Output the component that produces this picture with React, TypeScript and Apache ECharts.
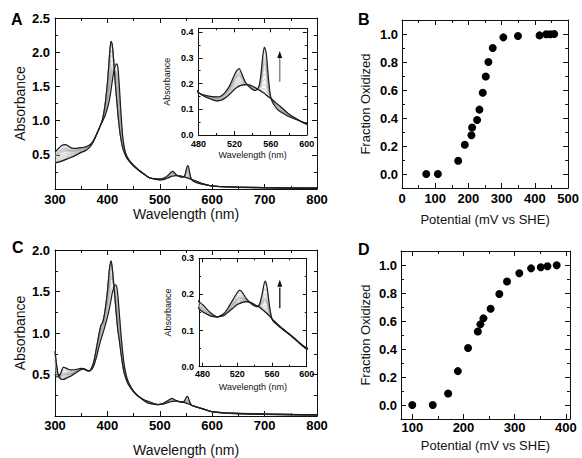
import React, { useEffect, useRef } from "react";
import * as echarts from "echarts";

const FONT = "'Liberation Sans', Arial, Helvetica, sans-serif";

// ---------- Panel A: spectra (fully reduced / fully oxidized) ----------
const wavelengthsA = [300, 305, 310, 315, 320, 325, 330, 335, 340, 345, 350, 355, 360, 365, 370, 375, 380, 385, 390, 395, 400, 403, 405, 407, 409, 411, 413, 415, 418, 420, 422, 424, 426, 428, 430, 433, 436, 440, 445, 450, 460, 470, 480, 490, 500, 505, 510, 515, 520, 523, 525, 528, 532, 537, 543, 547, 549, 551, 553, 555, 557, 559, 561, 566, 570, 575, 580, 590, 600, 620, 650, 700, 750, 800];
const reducedA = [0.54, 0.58, 0.62, 0.645, 0.65, 0.63, 0.605, 0.595, 0.595, 0.6, 0.605, 0.61, 0.62, 0.64, 0.67, 0.73, 0.81, 0.9, 0.98, 1.06, 1.18, 1.27, 1.35, 1.45, 1.56, 1.66, 1.74, 1.8, 1.83, 1.78, 1.6, 1.35, 1.1, 0.88, 0.72, 0.58, 0.5, 0.44, 0.39, 0.35, 0.28, 0.22, 0.165, 0.152, 0.148, 0.152, 0.168, 0.195, 0.235, 0.253, 0.258, 0.238, 0.205, 0.185, 0.173, 0.19, 0.23, 0.3, 0.342, 0.32, 0.24, 0.17, 0.135, 0.105, 0.092, 0.082, 0.072, 0.058, 0.045, 0.033, 0.024, 0.015, 0.01, 0.008];
const oxidizedA = [0.38, 0.39, 0.4, 0.415, 0.43, 0.445, 0.46, 0.475, 0.495, 0.515, 0.535, 0.55, 0.57, 0.6, 0.65, 0.72, 0.81, 0.9, 1.0, 1.2, 1.55, 1.85, 2.05, 2.16, 2.12, 1.98, 1.78, 1.55, 1.28, 1.1, 0.95, 0.82, 0.72, 0.64, 0.58, 0.52, 0.47, 0.42, 0.375, 0.335, 0.27, 0.215, 0.165, 0.145, 0.133, 0.135, 0.145, 0.16, 0.178, 0.186, 0.19, 0.194, 0.196, 0.194, 0.184, 0.175, 0.171, 0.166, 0.162, 0.155, 0.15, 0.145, 0.14, 0.124, 0.113, 0.097, 0.082, 0.06, 0.042, 0.035, 0.028, 0.022, 0.018, 0.015];

// ---------- Panel B: redox titration ----------
const potentialB = [73, 108, 169, 189, 209, 211, 226, 233, 243, 252, 260, 273, 305, 349, 414, 434, 446, 458];
const fractionB = [0, 0, 0.095, 0.209, 0.277, 0.332, 0.386, 0.46, 0.58, 0.697, 0.8, 0.9, 0.976, 0.986, 0.99, 0.998, 0.998, 1.0];

// ---------- Panel C: spectra ----------
const wavelengthsC = [300, 303, 306, 310, 313, 316, 320, 325, 330, 340, 350, 355, 360, 365, 370, 375, 380, 385, 388, 391, 395, 400, 404, 407, 409, 412, 414, 416, 418, 420, 423, 426, 429, 432, 436, 440, 450, 460, 470, 476, 480, 490, 497, 505, 510, 515, 520, 523, 526, 530, 535, 540, 543, 546, 549, 552, 554, 556, 558, 561, 570, 583, 590, 600, 620, 650, 700, 750, 800];
const reducedC = [0.5, 0.47, 0.47, 0.5, 0.55, 0.59, 0.58, 0.565, 0.555, 0.56, 0.575, 0.57, 0.555, 0.545, 0.56, 0.62, 0.73, 0.86, 0.93, 0.99, 1.07, 1.19, 1.3, 1.4, 1.47, 1.54, 1.57, 1.58, 1.55, 1.45, 1.22, 0.98, 0.78, 0.62, 0.49, 0.41, 0.3, 0.235, 0.195, 0.18, 0.172, 0.148, 0.138, 0.148, 0.165, 0.185, 0.205, 0.212, 0.205, 0.19, 0.177, 0.168, 0.166, 0.175, 0.205, 0.237, 0.225, 0.19, 0.155, 0.127, 0.108, 0.083, 0.068, 0.049, 0.036, 0.026, 0.018, 0.012, 0.009];
const oxidizedC = [0.78, 0.62, 0.5, 0.45, 0.44, 0.44, 0.45, 0.465, 0.48, 0.52, 0.56, 0.565, 0.55, 0.54, 0.58, 0.68, 0.85, 1.02, 1.1, 1.13, 1.25, 1.5, 1.78, 1.87, 1.8, 1.6, 1.45, 1.3, 1.15, 1.03, 0.9, 0.75, 0.62, 0.52, 0.44, 0.38, 0.29, 0.23, 0.185, 0.16, 0.152, 0.14, 0.138, 0.142, 0.152, 0.162, 0.172, 0.175, 0.178, 0.18, 0.178, 0.172, 0.168, 0.164, 0.158, 0.152, 0.148, 0.143, 0.138, 0.13, 0.11, 0.085, 0.07, 0.052, 0.04, 0.032, 0.025, 0.02, 0.016];

// ---------- Panel D: redox titration ----------
const potentialD = [100, 140, 170, 189, 209, 228, 233, 239, 253, 270, 285, 309, 332, 351, 364, 382];
const fractionD = [0, 0, 0.082, 0.242, 0.407, 0.525, 0.576, 0.619, 0.687, 0.793, 0.882, 0.941, 0.976, 0.984, 0.991, 0.998];

// ---------- Tick values ----------
const mainXMajor = [300, 400, 500, 600, 700, 800];
const mainXMinor = [350, 450, 550, 650, 750];
const mainAYMajor = [0, 0.5, 1.0, 1.5, 2.0, 2.5];
const mainAYLabels = [0.5, 1.0, 1.5, 2.0, 2.5];
const mainAYMinor = [0.25, 0.75, 1.25, 1.75, 2.25];
const mainCYMajor = [0, 0.5, 1.0, 1.5, 2.0];
const mainCYLabels = [0.5, 1.0, 1.5, 2.0];
const mainCYMinor = [0.25, 0.75, 1.25, 1.75];
const insetXMajor = [480, 520, 560, 600];
const insetXMinor = [500, 540, 580];
const insetAYMajor = [0, 0.1, 0.2, 0.3, 0.4];
const insetCYMajor = [0, 0.1, 0.2, 0.3];
const insetYMinorA = [0.05, 0.15, 0.25, 0.35];
const insetYMinorC = [0.05, 0.15, 0.25];
const fracYMajor = [0, 0.2, 0.4, 0.6, 0.8, 1.0];
const fracYMinor = [-0.1, 0.1, 0.3, 0.5, 0.7, 0.9, 1.1];
const potBXMajor = [0, 100, 200, 300, 400, 500];
const potBXMinor = [50, 150, 250, 350, 450];
const potDXMajor = [100, 200, 300, 400];
const potDXMinor = [150, 250, 350];

// arrow annotations in the insets: [wavelength, from, to]
const arrowA = [570, 0.207, 0.313];
const arrowC = [569, 0.162, 0.231];

type AxisSpec = {
  grid: number;
  min: number;
  max: number;
  major: number[];
  minor: number[];
  labels: number[];
  fmt: (v: number) => string;
  fontSize: number;
  margin: number;
  tickLen: number;
  name: string;
  nameGap: number;
  nameSize: number;
};

function buildAxes(dim: "x" | "y", s: AxisSpec) {
  const sides = dim === "x" ? ["bottom", "top"] : ["left", "right"];
  const out: any[] = [];
  sides.forEach((pos, i) => {
    const base = {
      type: "value",
      gridIndex: s.grid,
      min: s.min,
      max: s.max,
      position: pos,
      splitLine: { show: false },
    };
    out.push({
      ...base,
      axisLine: { show: true, onZero: false, lineStyle: { color: "#111", width: 1 } },
      axisTick: {
        show: true,
        inside: true,
        length: s.tickLen,
        customValues: s.major,
        lineStyle: { color: "#111", width: 1 },
      },
      axisLabel:
        i === 0
          ? {
              show: true,
              customValues: s.labels,
              formatter: (v: number) => s.fmt(v),
              fontFamily: FONT,
              fontWeight: "bold",
              fontSize: s.fontSize,
              color: "#000",
              margin: s.margin,
            }
          : { show: false },
      name: i === 0 ? s.name : "",
      nameLocation: "middle",
      nameGap: s.nameGap,
      nameTextStyle: { fontFamily: FONT, fontSize: s.nameSize, color: "#111", fontWeight: "normal" },
    });
    out.push({
      ...base,
      axisLine: { show: false, onZero: false },
      axisTick: {
        show: true,
        inside: true,
        length: Math.max(2, Math.round(s.tickLen * 0.55)),
        customValues: s.minor,
        lineStyle: { color: "#111", width: 1 },
      },
      axisLabel: { show: false },
    });
  });
  return out;
}

function spectrumSeries(xi: number, yi: number, wl: number[], red: number[], ox: number[], fractions: number[], width: number) {
  const series: any[] = [];
  // each titration point: Beer-Lambert mixture weighted by the measured fraction oxidized
  fractions.forEach((f) => {
    if (f <= 0 || f >= 1) return;
    series.push({
      type: "line",
      xAxisIndex: xi,
      yAxisIndex: yi,
      data: wl.map((w, i) => [w, f * ox[i] + (1 - f) * red[i]]),
      showSymbol: false,
      smooth: 0.25,
      silent: true,
      lineStyle: { color: "#a3a3a3", width: 0.6 },
      z: 2,
    });
  });
  [red, ox].forEach((arr) => {
    series.push({
      type: "line",
      xAxisIndex: xi,
      yAxisIndex: yi,
      data: wl.map((w, i) => [w, arr[i]]),
      showSymbol: false,
      smooth: 0.25,
      silent: true,
      lineStyle: { color: "#1c1c1c", width },
      z: 3,
    });
  });
  return series;
}

export default function App() {
  const ref = useRef<HTMLDivElement>(null);

  useEffect(() => {
    if (!ref.current) return;
    const chart = echarts.init(ref.current, undefined, { renderer: "svg" });

    const grids = [
      { left: 55, top: 18, width: 262, height: 171 }, // 0 A
      { left: 198.5, top: 28.3, width: 108.3, height: 106.7 }, // 1 A inset
      { left: 402, top: 20, width: 169, height: 168 }, // 2 B
      { left: 55, top: 250, width: 262, height: 168 }, // 3 C
      { left: 199, top: 258.3, width: 107.7, height: 108.4 }, // 4 C inset
      { left: 401, top: 251, width: 169, height: 168 }, // 5 D
    ];

    const xAxes: any[] = [];
    const yAxes: any[] = [];
    const idx: { x: number; y: number }[] = [];
    const f1 = (v: number) => v.toFixed(1);
    const f0 = (v: number) => String(Math.round(v));

    const addGrid = (xs: AxisSpec, ys: AxisSpec) => {
      idx.push({ x: xAxes.length, y: yAxes.length });
      xAxes.push(...buildAxes("x", xs));
      yAxes.push(...buildAxes("y", ys));
    };

    // A
    addGrid(
      { grid: 0, min: 300, max: 800, major: mainXMajor, minor: mainXMinor, labels: mainXMajor, fmt: f0, fontSize: 13, margin: 4, tickLen: 5, name: "Wavelength (nm)", nameGap: 15, nameSize: 14 },
      { grid: 0, min: 0, max: 2.5, major: mainAYMajor, minor: mainAYMinor, labels: mainAYLabels, fmt: f1, fontSize: 13, margin: 5, tickLen: 5, name: "Absorbance", nameGap: 28, nameSize: 14 }
    );
    // A inset
    addGrid(
      { grid: 1, min: 480, max: 600, major: insetXMajor, minor: insetXMinor, labels: insetXMajor, fmt: f0, fontSize: 9, margin: 4, tickLen: 4, name: "Wavelength (nm)", nameGap: 15, nameSize: 9 },
      { grid: 1, min: 0, max: 0.415, major: insetAYMajor, minor: insetYMinorA, labels: insetAYMajor, fmt: f1, fontSize: 9, margin: 5, tickLen: 4, name: "Absorbance", nameGap: 27, nameSize: 9 }
    );
    // B
    addGrid(
      { grid: 2, min: 0, max: 500, major: potBXMajor, minor: potBXMinor, labels: potBXMajor, fmt: f0, fontSize: 13, margin: 4, tickLen: 5, name: "Potential (mV vs SHE)", nameGap: 25, nameSize: 13 },
      { grid: 2, min: -0.1, max: 1.1, major: fracYMajor, minor: fracYMinor, labels: fracYMajor, fmt: f1, fontSize: 13, margin: 4, tickLen: 5, name: "Fraction Oxidized", nameGap: 30, nameSize: 13 }
    );
    // C
    addGrid(
      { grid: 3, min: 300, max: 800, major: mainXMajor, minor: mainXMinor, labels: mainXMajor, fmt: f0, fontSize: 13, margin: 3, tickLen: 5, name: "Wavelength (nm)", nameGap: 27, nameSize: 14 },
      { grid: 3, min: 0, max: 2.0, major: mainCYMajor, minor: mainCYMinor, labels: mainCYLabels, fmt: f1, fontSize: 13, margin: 5, tickLen: 5, name: "Absorbance", nameGap: 28, nameSize: 14 }
    );
    // C inset
    addGrid(
      { grid: 4, min: 476, max: 600, major: insetXMajor, minor: insetXMinor, labels: insetXMajor, fmt: f0, fontSize: 9, margin: 3, tickLen: 4, name: "Wavelength (nm)", nameGap: 16, nameSize: 9 },
      { grid: 4, min: 0, max: 0.3, major: insetCYMajor, minor: insetYMinorC, labels: insetCYMajor, fmt: f1, fontSize: 9, margin: 5, tickLen: 4, name: "Absorbance", nameGap: 27, nameSize: 9 }
    );
    // D
    addGrid(
      { grid: 5, min: 78, max: 408, major: potDXMajor, minor: potDXMinor, labels: potDXMajor, fmt: f0, fontSize: 13, margin: 2, tickLen: 5, name: "Potential (mV vs SHE)", nameGap: 20, nameSize: 13 },
      { grid: 5, min: -0.1, max: 1.1, major: fracYMajor, minor: fracYMinor, labels: fracYMajor, fmt: f1, fontSize: 13, margin: 4, tickLen: 5, name: "Fraction Oxidized", nameGap: 29, nameSize: 13 }
    );

    const arrowSeries = (xi: number, yi: number, a: number[], shaft: string) => ({
      type: "line",
      xAxisIndex: xi,
      yAxisIndex: yi,
      data: [[a[0], a[1]], [a[0], a[2] - 0.012]],
      showSymbol: false,
      silent: true,
      lineStyle: { color: shaft, width: 1.5 },
      markPoint: {
        silent: true,
        symbol: "triangle",
        symbolSize: [5, 7],
        symbolOffset: [0, 0],
        itemStyle: { color: "#111" },
        label: { show: false },
        data: [{ coord: [a[0], a[2]] }],
      },
      z: 4,
    });

    const series: any[] = [
      ...spectrumSeries(idx[0].x, idx[0].y, wavelengthsA, reducedA, oxidizedA, fractionB, 1.2),
      ...spectrumSeries(idx[1].x, idx[1].y, wavelengthsA, reducedA, oxidizedA, fractionB, 1.2),
      arrowSeries(idx[1].x, idx[1].y, arrowA, "#888"),
      {
        type: "scatter",
        xAxisIndex: idx[2].x,
        yAxisIndex: idx[2].y,
        data: potentialB.map((p, i) => [p, fractionB[i]]),
        symbolSize: 8,
        itemStyle: { color: "#000", opacity: 1 },
      },
      ...spectrumSeries(idx[3].x, idx[3].y, wavelengthsC, reducedC, oxidizedC, fractionD, 1.2),
      ...spectrumSeries(idx[4].x, idx[4].y, wavelengthsC, reducedC, oxidizedC, fractionD, 1.2),
      arrowSeries(idx[4].x, idx[4].y, arrowC, "#333"),
      {
        type: "scatter",
        xAxisIndex: idx[5].x,
        yAxisIndex: idx[5].y,
        data: potentialD.map((p, i) => [p, fractionD[i]]),
        symbolSize: 8,
        itemStyle: { color: "#000", opacity: 1 },
      },
    ];

    const letter = (t: string, x: number, y: number) => ({
      type: "text",
      x,
      y,
      style: { text: t, fill: "#000", font: `bold 16px ${FONT}`, textVerticalAlign: "middle" },
    });

    chart.setOption({
      animation: false,
      backgroundColor: "#fff",
      grid: grids,
      xAxis: xAxes,
      yAxis: yAxes,
      series,
      graphic: [letter("A", 11, 19), letter("B", 358, 19), letter("C", 12, 247), letter("D", 358, 249)],
    });

    return () => chart.dispose();
  }, []);

  return (
    <div
      ref={ref}
      style={{ position: "absolute", left: 0, top: 0, width: 582, height: 458, background: "#fff" }}
    />
  );
}
